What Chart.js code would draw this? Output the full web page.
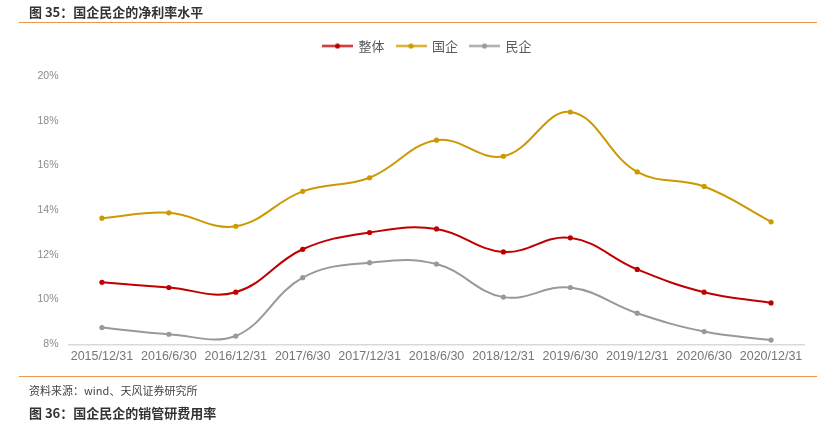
<!DOCTYPE html>
<html>
<head>
<meta charset="utf-8">
<script src="https://cdn.jsdelivr.net/npm/chart.js@4/dist/chart.umd.min.js"></script>
<style>
  html, body { margin: 0; padding: 0; background: #fff; }
  #wrap { position: relative; width: 817px; height: 421px; overflow: hidden; }
  #c { position: absolute; left: 0; top: 0; }
  .cap { position: absolute; left: 29px; font-family: "Noto Sans CJK SC", sans-serif; white-space: nowrap; }
  .title { font-size: 13px; font-weight: bold; color: #333; line-height: 16px; }
  .src { font-size: 11px; color: #444; line-height: 14px; }
  .rule { position: absolute; left: 19px; right: 0; height: 1px; background: #F0964A; }
</style>
</head>
<body>
<div id="wrap">
  <canvas id="c" width="817" height="421"></canvas>
  <div class="cap title" style="top:4px;">图 35：国企民企的净利率水平</div>
  <div class="rule" style="top:22px;"></div>
  <div class="rule" style="top:376px;"></div>
  <div class="cap src" style="top:383px;">资料来源：wind、天风证券研究所</div>
  <div class="cap title" style="top:405px;">图 36：国企民企的销管研费用率</div>
</div>
<script>
const categories = ["2015/12/31","2016/6/30","2016/12/31","2017/6/30","2017/12/31","2018/6/30","2018/12/31","2019/6/30","2019/12/31","2020/6/30","2020/12/31"];
const seriesNames = ["整体","国企","民企"];
const overall = [10.77,10.54,10.33,12.25,13.00,13.16,12.13,12.76,11.35,10.33,9.85];
const soe     = [13.64,13.88,13.28,14.84,15.45,17.13,16.41,18.39,15.71,15.06,13.48];
const private_ = [8.75,8.45,8.37,10.98,11.65,11.59,10.11,10.54,9.39,8.57,8.19];
const yTicks = [8,10,12,14,16,18,20];
const colors = ["#C00000","#CC9900","#999999"];

function legendIcon(color){
  const cv = document.createElement('canvas');
  cv.width = 31; cv.height = 7;
  const g = cv.getContext('2d');
  g.strokeStyle = color; g.lineWidth = 2;
  g.beginPath(); g.moveTo(0,3.5); g.lineTo(31,3.5); g.stroke();
  g.fillStyle = color;
  g.beginPath(); g.arc(15.5,3.5,2.6,0,Math.PI*2); g.fill();
  return cv;
}

const values = [overall, soe, private_];
const datasets = seriesNames.map((n,i)=>({
  label: n,
  data: values[i],
  borderColor: colors[i],
  backgroundColor: colors[i],
  borderWidth: 2,
  pointRadius: 2.6,
  pointHoverRadius: 3,
  pointBorderWidth: 0,
  tension: 0.4,
  fill: false
}));

const legendPad = {
  id: 'legendPad',
  afterInit(chart){
    const L = chart.legend;
    const f = L.fit.bind(L);
    L.fit = function(){ f(); this.height += 13.5; if (this.lineWidths) this.lineWidths[0] -= 50; };
  }
};

new Chart(document.getElementById('c'), {
  type: 'line',
  data: { labels: categories, datasets },
  plugins: [legendPad],
  options: {
    responsive: false,
    animation: false,
    layout: { padding: { top: 27.5, left: 0, right: 12.5, bottom: 51.7 } },
    plugins: {
      tooltip: { enabled: false },
      legend: {
        position: 'top',
        labels: {
          usePointStyle: true,
          pointStyleWidth: 29,
          padding: 12,
          color: '#595959',
          font: { family: '"Noto Sans CJK SC", sans-serif', size: 13 },
          generateLabels(chart){
            return chart.data.datasets.map((d,i)=>({
              text: d.label,
              pointStyle: legendIcon(colors[i]),
              fillStyle: colors[i],
              strokeStyle: colors[i],
              lineWidth: 0,
              fontColor: '#595959',
              datasetIndex: i,
              hidden: false
            }));
          }
        }
      }
    },
    scales: {
      x: {
        offset: true,
        grid: { display: false, drawTicks: false },
        border: { display: true, color: '#D9D9D9', width: 1.5 },
        ticks: {
          autoSkip: false, maxRotation: 0, minRotation: 0,
          padding: 5,
          color: '#767676',
          font: { family: '"Liberation Sans", Arial, sans-serif', size: 12.5 }
        }
      },
      y: {
        min: 8, max: 20,
        afterFit(s){ s.width = 68.5; },
        afterBuildTicks(s){ s.ticks = yTicks.map(v=>({value:v})); },
        grid: { display: false, drawTicks: false },
        border: { display: false },
        ticks: {
          padding: 10,
          color: '#8C8C8C',
          font: { family: '"Liberation Sans", Arial, sans-serif', size: 10.5 },
          callback: v => v + '%'
        }
      }
    }
  }
});
</script>
</body>
</html>
